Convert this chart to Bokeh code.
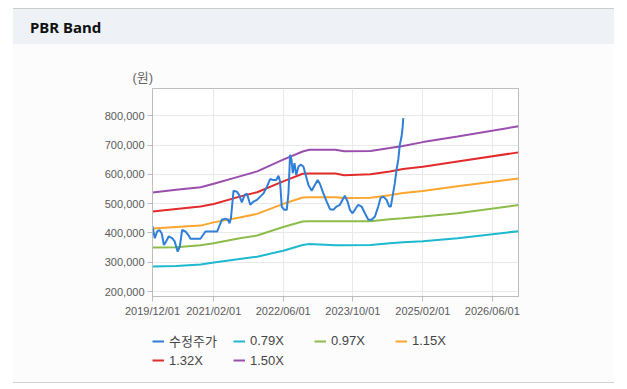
import pandas as pd
from bokeh.plotting import figure
from bokeh.layouts import column
from bokeh.models import (Range1d, FixedTicker, DatetimeTickFormatter, NumeralTickFormatter,
                          Legend, LegendItem, Title, ColumnDataSource, Div)
from bokeh.embed import file_html
from bokeh.resources import INLINE

# ---------------- data ----------------
title_text = "PBR Band"
unit_text = "(원)"

price_dates = [
    "2019-12-01", "2019-12-17", "2020-01-03", "2020-01-19", "2020-02-03", "2020-02-19",
    "2020-03-05", "2020-03-23", "2020-04-16", "2020-05-04", "2020-05-25", "2020-06-09",
    "2020-06-25", "2020-07-18", "2020-08-10", "2020-08-22", "2020-10-08", "2020-10-31",
    "2020-12-05", "2021-01-09", "2021-02-25", "2021-03-30", "2021-04-22", "2021-05-11",
    "2021-05-22", "2021-06-01", "2021-06-19", "2021-07-12", "2021-07-28", "2021-08-16",
    "2021-09-05", "2021-09-21", "2021-10-14", "2021-11-06", "2021-11-30", "2021-12-23",
    "2022-01-16", "2022-02-08", "2022-03-02", "2022-03-20", "2022-04-13", "2022-04-29",
    "2022-05-10", "2022-05-22", "2022-06-08", "2022-06-26", "2022-07-08", "2022-07-19",
    "2022-07-29", "2022-08-07", "2022-08-19", "2022-08-31", "2022-09-16", "2022-10-04",
    "2022-10-20", "2022-11-08", "2022-11-24", "2022-12-17", "2023-01-05", "2023-01-28",
    "2023-02-13", "2023-03-08", "2023-04-01", "2023-04-24", "2023-05-17", "2023-06-09",
    "2023-07-02", "2023-07-21", "2023-08-06", "2023-08-25", "2023-09-10", "2023-09-29",
    "2023-10-15", "2023-11-07", "2023-12-01", "2023-12-24", "2024-01-17", "2024-02-09",
    "2024-03-03", "2024-03-26", "2024-04-11", "2024-04-30", "2024-05-23", "2024-06-11",
    "2024-06-22", "2024-07-08", "2024-07-20", "2024-08-01", "2024-08-13", "2024-08-24",
    "2024-09-05", "2024-09-12", "2024-09-17",
]
price_values = [
    422000, 382000, 405000, 410000, 399000, 359000,
    371000, 388000, 382000, 371000, 336000, 354000,
    410000, 405000, 391000, 380000, 380000, 380000,
    405000, 405000, 405000, 445000, 449000, 445000,
    433000, 450000, 544000, 541000, 530000, 504000,
    530000, 534000, 496000, 507000, 513000, 524000,
    536000, 559000, 584000, 581000, 581000, 595000,
    576000, 490000, 479000, 479000, 536000, 667000,
    650000, 604000, 638000, 598000, 627000, 633000,
    627000, 593000, 564000, 544000, 561000, 581000,
    567000, 536000, 507000, 481000, 479000, 490000,
    496000, 513000, 527000, 507000, 479000, 467000,
    479000, 496000, 490000, 467000, 445000, 445000,
    456000, 490000, 519000, 524000, 513000, 490000,
    490000, 536000, 570000, 616000, 650000, 701000,
    729000, 758000, 792000,
]

band_dates = [
    "2019-12-01", "2020-05-15", "2020-11-01", "2021-02-01", "2021-08-01", "2021-12-01",
    "2022-06-01", "2022-10-15", "2022-12-01", "2023-06-01", "2023-08-01", "2024-02-01",
    "2024-06-15", "2024-09-15", "2025-02-01", "2025-10-01", "2026-12-01",
]
band_079 = [285000, 287000, 292000, 299000, 311000, 319000, 339000, 359000, 362000,
            358000, 358000, 359000, 365000, 368000, 372000, 382000, 406000]
band_097 = [350000, 351000, 358000, 365000, 382000, 391000, 420000, 439000, 440000,
            440000, 440000, 440000, 447000, 450000, 456000, 467000, 495000]
band_115 = [415000, 420000, 425000, 436000, 453000, 465000, 499000, 521000, 522000,
            522000, 519000, 520000, 529000, 536000, 543000, 559000, 586000]
band_132 = [473000, 482000, 490000, 499000, 524000, 539000, 576000, 602000, 603000,
            603000, 597000, 600000, 610000, 618000, 626000, 644000, 675000]
band_150 = [538000, 547000, 556000, 568000, 593000, 610000, 650000, 678000, 684000,
            684000, 679000, 680000, 690000, 697000, 710000, 729000, 764000]

series_names = ["수정주가", "0.79X", "0.97X", "1.15X", "1.32X", "1.50X"]
series_colors = ["#2f7fd8", "#1fb9cf", "#8cbd4a", "#fba62f", "#e22b2b", "#9a4fae"]

x_tick_dates = ["2019-12-01", "2021-02-01", "2022-06-01", "2023-10-01", "2025-02-01", "2026-06-01"]
y_ticks = [200000, 300000, 400000, 500000, 600000, 700000, 800000]
x_start, x_end = "2019-12-01", "2026-12-01"
y_start, y_end = 183000, 893000

FONT = "'Liberation Sans', 'Noto Sans CJK KR', sans-serif"

price_x = pd.to_datetime(price_dates)
band_x = pd.to_datetime(band_dates)
series = [(price_x, price_values), (band_x, band_079), (band_x, band_097),
          (band_x, band_115), (band_x, band_132), (band_x, band_150)]

# ---------------- header ----------------
header = Div(text=('<div style="box-sizing:border-box;width:601px;height:36px;'
                   'border-top:1px solid #cdcdcd;background:#eef2f7;padding-left:17px;'
                   "font:bold 15px 'Noto Sans', sans-serif;line-height:37px;color:#111111;\">"
                   + title_text + "</div>"),
             width=601, height=36, margin=(8, 0, 0, 13))

# ---------------- chart ----------------
chart_bg = "linear-gradient(#fcfcfc, #fcfcfc) 13px 0px / 601px 100% no-repeat, #ffffff"

to_ms = lambda s: pd.Timestamp(s).value // 10**6

p = figure(frame_width=366, frame_height=208, x_axis_type="datetime",
           x_range=Range1d(pd.Timestamp(x_start), pd.Timestamp(x_end)),
           y_range=Range1d(y_start, y_end),
           toolbar_location=None, output_backend="svg",
           min_border_left=152, min_border_right=102, min_border_top=44, min_border_bottom=30,
           background_fill_color="#ffffff", border_fill_alpha=0,
           outline_line_color="#bdbdbd", margin=0,
           styles={"background": chart_bg})

# bands first, price on top
for (xs, ys), col in list(zip(series, series_colors))[1:]:
    p.line(xs, ys, line_color=col, line_width=2)
p.line(series[0][0], series[0][1], line_color=series_colors[0], line_width=2)

p.xaxis.ticker = FixedTicker(ticks=[to_ms(d) for d in x_tick_dates])
p.xaxis.formatter = DatetimeTickFormatter(days="%Y/%m/%d", months="%Y/%m/%d", years="%Y/%m/%d",
                                          hours="%Y/%m/%d", minutes="%Y/%m/%d")
p.yaxis.ticker = FixedTicker(ticks=y_ticks)
p.yaxis.formatter = NumeralTickFormatter(format="0,0")

for ax in (p.xaxis[0], p.yaxis[0]):
    ax.axis_line_color = "#bdbdbd"
    ax.major_tick_line_color = "#bdbdbd"
    ax.major_tick_out = 5
    ax.major_tick_in = 0
    ax.minor_tick_line_color = None
    ax.minor_tick_out = 0
    ax.major_label_text_font = "Liberation Sans"
    ax.major_label_text_font_size = "11px"
    ax.major_label_text_color = "#5a5a5a"
    ax.major_label_standoff = 3

p.grid.grid_line_color = "#e9e9e9"
p.xgrid.ticker = FixedTicker(ticks=[to_ms(d) for d in x_tick_dates])
p.ygrid.ticker = FixedTicker(ticks=y_ticks)

p.title.visible = False
p.add_layout(Title(text=unit_text, align="left", offset=-20, standoff=8,
                   text_font=FONT, text_font_size="13px", text_font_style="normal",
                   text_color="#666666"), "above")

# ---------------- legend strip (same series, drawn outside its frame) ----------------
leg_bg = ("linear-gradient(to bottom, #fcfcfc 0px, #fcfcfc 56px, #d3d3d3 56px, #d3d3d3 57px) "
          "13px 0px / 601px 57px no-repeat, #ffffff")
lg = figure(frame_width=370, frame_height=38, x_axis_type="datetime",
            x_range=Range1d(pd.Timestamp(x_start), pd.Timestamp(x_end)), y_range=Range1d(0, 1),
            toolbar_location=None, output_backend="svg",
            min_border_left=148, min_border_right=102, min_border_top=5, min_border_bottom=14,
            x_axis_location=None, y_axis_location=None,
            background_fill_alpha=0, border_fill_alpha=0, outline_line_color=None, margin=0,
            styles={"background": leg_bg})
lg.grid.visible = False
lg.title.visible = False
key_renderers = [lg.line(xs, ys, line_color=c, line_width=2)
                 for (xs, ys), c in zip(series, series_colors)]

items = [LegendItem(label=n, renderers=[r]) for n, r in zip(series_names, key_renderers)]
legend = Legend(items=items, ncols=4, location="top_left", orientation="horizontal",
                label_text_font=FONT, label_text_font_size="13px", label_text_color="#444444",
                glyph_width=12, glyph_height=16, label_height=16, label_width=62,
                label_standoff=5, spacing=2, padding=0, margin=0,
                border_line_color=None, background_fill_alpha=0)
lg.add_layout(legend, "center")

layout = column(header, p, lg, spacing=0)
open("out.html", "w").write(file_html(layout, INLINE))
